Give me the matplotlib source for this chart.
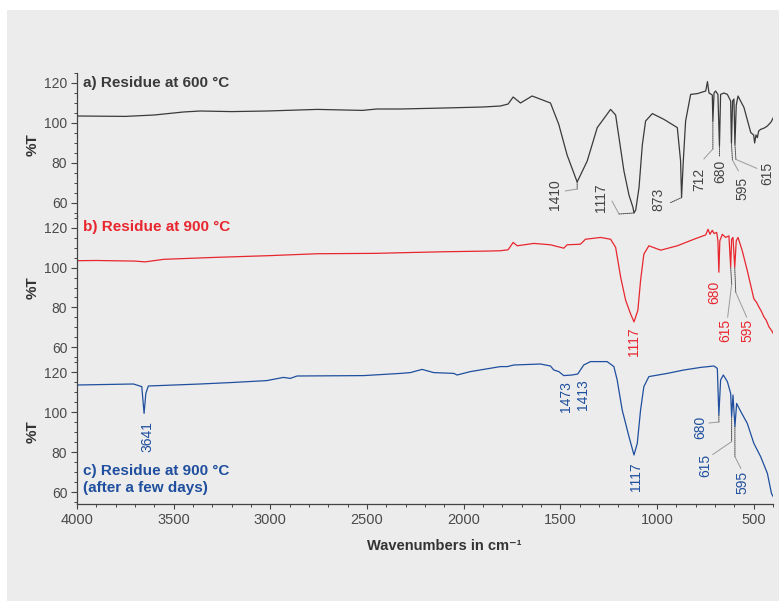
import matplotlib
matplotlib.use("Agg")
import matplotlib.pyplot as plt
from matplotlib.patches import Rectangle
from matplotlib.ticker import MultipleLocator
import matplotlib.transforms as mtransforms

plt.rcParams['font.family'] = ['Liberation Sans', 'DejaVu Sans']

# ---------------- data ----------------
wn_a = [4000, 3750, 3600, 3450, 3363, 3200, 3016, 2757, 2524, 2450, 2327, 2100, 1900, 1810,
        1770, 1744, 1706, 1646, 1551, 1508, 1465, 1413, 1361, 1309, 1240, 1214, 1171, 1145,
        1125, 1119, 1110, 1093, 1076, 1059, 1024, 964, 895, 878, 873, 864, 852, 826, 791, 748,
        739, 731, 714, 711, 705, 697, 685, 677, 671, 654, 636, 619, 615, 609, 602, 597, 590,
        581, 550, 515, 500, 495, 488, 481, 474, 464, 445, 429, 410, 394]
T_a = [103.5, 103.3, 104.0, 105.5, 106.0, 105.7, 106.0, 106.8, 106.3, 107.0, 107.0, 107.5, 108.0, 108.5,
       109.5, 113.0, 110.0, 113.5, 110.0, 99.3, 84.0, 70.5, 81.0, 97.7, 106.8, 104.0, 76.0, 64.0,
       58.0, 55.0, 56.5, 67.7, 89.0, 101.0, 104.7, 101.8, 97.7, 81.0, 62.7, 81.0, 101.0, 114.3, 114.7, 116.0,
       120.7, 115.0, 114.0, 101.0, 115.0, 116.0, 114.3, 88.5, 114.3, 115.0, 114.3, 111.0, 90.0, 111.0, 112.0, 89.3, 109.0,
       113.5, 107.7, 95.2, 94.0, 90.0, 94.0, 92.7, 96.0, 96.8, 97.5, 98.5, 100.5, 103.5]

wn_b = [4000, 3900, 3700, 3648, 3550, 3275, 3016, 2757, 2450, 2327, 2100, 1900, 1810,
        1770, 1744, 1723, 1637, 1551, 1482, 1465, 1396, 1370, 1292, 1240, 1214, 1188, 1162,
        1137, 1119, 1099, 1085, 1068, 1042, 981, 895, 809, 748, 736, 726, 714, 705, 691, 685,
        680, 675, 662, 645, 628, 619, 614, 607, 598, 590, 581, 559, 533, 499, 485, 473, 460,
        447, 435, 421, 405, 394]
T_b = [103.5, 103.6, 103.3, 102.9, 104.2, 105.2, 106.0, 107.0, 107.2, 107.5, 108.0, 108.3, 108.5,
       109.0, 112.7, 111.0, 112.2, 111.5, 109.8, 111.5, 111.8, 114.3, 115.2, 114.3, 110.2, 95.2, 83.5,
       76.8, 72.7, 78.5, 93.5, 106.8, 111.0, 108.8, 111.0, 114.3, 116.5, 119.3, 116.8, 118.8, 117.2, 117.7, 113.5,
       97.7, 113.5, 116.8, 115.2, 116.0, 100.2, 114.3, 115.2, 100.2, 113.5, 115.2, 108.5, 98.5, 84.3, 82.5, 80.2, 78.0,
       75.2, 73.5, 70.2, 68.0, 66.0]

wn_c = [4000, 3708, 3665, 3653, 3644, 3631, 3363, 3208, 3018, 2932, 2897, 2862, 2517, 2327,
        2276, 2215, 2155, 2051, 2034, 1965, 1810, 1775, 1740, 1603, 1551, 1534, 1508, 1482,
        1439, 1410, 1379, 1344, 1258, 1223, 1206, 1180, 1145, 1119, 1102, 1085, 1068, 1042,
        947, 861, 774, 705, 688, 680, 671, 657, 636, 619, 614, 607, 597, 588, 571, 533, 499,
        464, 429, 408, 394]
T_c = [113.5, 114.0, 112.7, 99.3, 109.3, 113.0, 114.0, 114.7, 115.7, 117.3, 116.8, 118.0, 118.2, 119.3,
       119.7, 121.3, 119.7, 119.3, 118.5, 120.2, 122.7, 122.7, 123.5, 124.0, 123.0, 121.0, 120.2, 118.2,
       118.5, 119.0, 123.5, 125.2, 125.2, 122.7, 116.0, 101.0, 87.7, 78.5, 84.3, 101.0, 112.7, 117.7,
       119.3, 121.0, 122.3, 123.0, 121.8, 98.5, 116.0, 118.5, 115.2, 109.3, 97.7, 108.5, 92.7, 104.3, 101.0, 94.3, 84.3,
       77.7, 69.3, 59.3, 56.8]

panel_titles = ["a) Residue at 600 °C", "b) Residue at 900 °C", "c) Residue at 900 °C\n(after a few days)"]

# peak annotations: anchor wavenumber, anchor %T, label text
peaks_a_wn = [1413, 1119, 873, 711, 677, 615, 597]
peaks_a_T = [70.5, 55.0, 62.7, 101.0, 88.5, 90.0, 89.3]
peaks_a_lbl = ["1410", "1117", "873", "712", "680", "595", "615"]

peaks_b_wn = [1119, 680, 619, 598]
peaks_b_T = [72.7, 97.7, 100.2, 100.2]
peaks_b_lbl = ["1117", "680", "615", "595"]

peaks_c_wn = [3653, 1482, 1410, 1119, 680, 614, 597]
peaks_c_T = [99.3, 118.2, 119.0, 78.5, 98.5, 97.7, 92.7]
peaks_c_lbl = ["3641", "1473", "1413", "1117", "680", "615", "595"]

x_ticks = [4000, 3500, 3000, 2500, 2000, 1500, 1000, 500]
y_ticks = [60, 80, 100, 120]

# ---------------- styling / layout ----------------
# per annotation: knee offset (dotted), end offset (solid grey), label centre offset; pixels
lay_a = [((0, -7), (-12, -9), (-22, -13)),
         ((-15, -1), (-22, 12), (-33, 15)),
         ((-11, -5), None, (-23, -2)),
         ((0, -28), (-9, -38), (-14, -58)),
         ((0, -10), None, (1, -25)),
         ((1, -17), (7, -28), (11, -45)),
         ((1, -15), (22, -24), (32, -29))]
lay_b = [(None, None, (0, -20)),
         (None, None, (-5, -20)),
         ((1, -17), (-3, -50), (-5, -63)),
         ((1, -25), (12, -50), (13, -63))]
lay_c = [(None, None, (3, -23)),
         (None, None, (2, -21)),
         (None, None, (5, -21)),
         (None, None, (2, -22)),
         ((0, -7), (-10, -8), (-19, -12)),
         ((0, -25), (-19, -38), (-26, -49)),
         ((0, -30), (6, -42), (8, -56))]

col_a = '#3a3a3a'
col_b = '#e8262e'
col_c = '#1f4f9e'
tick_col = '#4a4a4a'

W, H = 779, 601
fig = plt.figure(figsize=(W / 100, H / 100), dpi=100)
fig.patch.set_facecolor('white')
fig.add_artist(Rectangle((7 / W, 0), 1, 1 - 10 / H, transform=fig.transFigure,
                         facecolor='#ececec', edgecolor='none', zorder=-10))

left = 77 / W
width = 696 / W
def px_axes(top, bottom):
    return [left, 1 - bottom / H, width, (bottom - top) / H]

ax_a = fig.add_axes(px_axes(73, 216))
ax_b = fig.add_axes(px_axes(216, 360))
ax_c = fig.add_axes(px_axes(360, 504))

ylims = [(53.5, 125), (53.5, 126), (54, 126)]
cols = [col_a, col_b, col_c]
data = [(wn_a, T_a), (wn_b, T_b), (wn_c, T_c)]
title_y = [0.93, 0.924, 0.17]

for i, ax in enumerate([ax_a, ax_b, ax_c]):
    ax.set_facecolor('none')
    wn, T = data[i]
    ax.plot(wn, T, color=cols[i], lw=0.9, solid_joinstyle='round')
    ax.set_xlim(4000, 400)
    ax.set_ylim(*ylims[i])
    ax.set_yticks(y_ticks)
    ax.yaxis.set_minor_locator(MultipleLocator(5))
    for s in ['top', 'right']:
        ax.spines[s].set_visible(False)
    ax.spines['left'].set_color('#444444')
    ax.spines['left'].set_linewidth(0.9)
    ax.tick_params(axis='y', which='major', direction='out', length=4, width=0.8,
                   colors='#444444', labelcolor=tick_col, labelsize=10, pad=3)
    ax.tick_params(axis='y', which='minor', direction='out', length=2, width=0.7, colors='#444444')
    ax.set_ylabel('%T', fontweight='bold', fontsize=11, color='#333333')
    ax.yaxis.set_label_coords(-0.053, 0.5)
    ax.text(0.009, title_y[i], panel_titles[i], transform=ax.transAxes, color=cols[i],
            fontweight='bold', fontsize=11, va='center', ha='left', linespacing=1.25)
    if i < 2:
        ax.spines['bottom'].set_visible(False)
        ax.tick_params(axis='x', which='both', bottom=False, labelbottom=False)

ax_c.spines['bottom'].set_color('#444444')
ax_c.spines['bottom'].set_linewidth(0.9)
ax_c.set_xticks(x_ticks)
ax_c.xaxis.set_minor_locator(MultipleLocator(100))
ax_c.tick_params(axis='x', which='major', direction='out', length=3.5, width=0.8,
                 colors='#444444', labelcolor=tick_col, labelsize=10.5, pad=3)
ax_c.tick_params(axis='x', which='minor', direction='out', length=2.5, width=0.7, colors='#444444')
ax_c.set_xlabel('Wavenumbers in cm⁻¹', fontweight='bold', fontsize=10.5, color='#333333')
ax_c.xaxis.set_label_coords(0.527, -0.243)


def annotate_peaks(ax, wns, Ts, lbls, lays, color):
    for wn, T, lbl, (knee, end, lab) in zip(wns, Ts, lbls, lays):
        start = (0, 0)
        if knee is not None:
            ax.annotate('', xy=(wn, T), xytext=knee, textcoords='offset pixels',
                        arrowprops=dict(arrowstyle='-', linestyle=(0, (1, 1)), color='#444444',
                                        lw=0.7, shrinkA=0, shrinkB=0))
            start = knee
        if end is not None:
            tr = mtransforms.offset_copy(ax.transData, fig=fig, x=start[0], y=start[1], units='dots')
            ax.annotate('', xy=(wn, T), xycoords=tr,
                        xytext=(end[0] - start[0], end[1] - start[1]), textcoords='offset pixels',
                        arrowprops=dict(arrowstyle='-', color='#9a9a9a', lw=0.7,
                                        shrinkA=0, shrinkB=0))
        ax.annotate(lbl, xy=(wn, T), xytext=lab, textcoords='offset pixels',
                    rotation=90, ha='center', va='center', fontsize=10, color=color)


annotate_peaks(ax_a, peaks_a_wn, peaks_a_T, peaks_a_lbl, lay_a, '#444444')
annotate_peaks(ax_b, peaks_b_wn, peaks_b_T, peaks_b_lbl, lay_b, col_b)
annotate_peaks(ax_c, peaks_c_wn, peaks_c_T, peaks_c_lbl, lay_c, col_c)

fig.savefig('out.png', dpi=100, facecolor=fig.get_facecolor())
